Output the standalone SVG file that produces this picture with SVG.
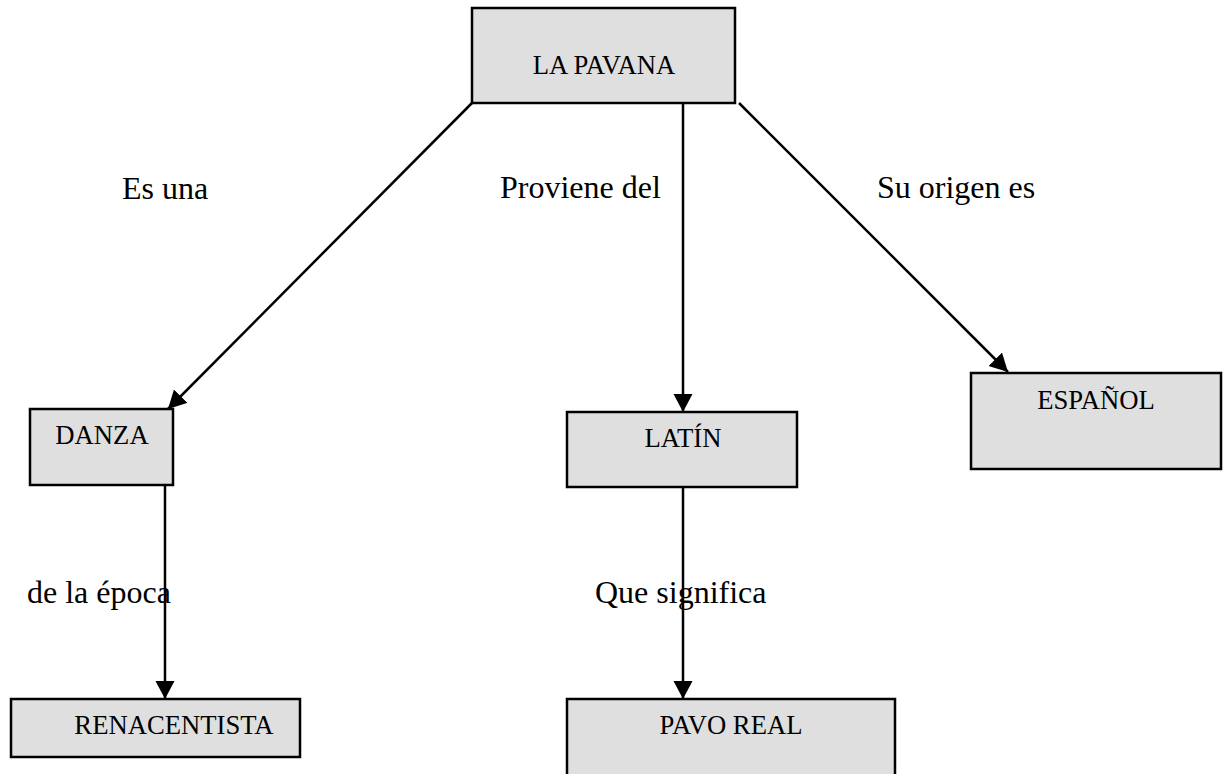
<svg xmlns="http://www.w3.org/2000/svg" width="1224" height="774" viewBox="0 0 1224 774">
<style>
.box{fill:#dfdfdf;stroke:#000;stroke-width:2.5}
.bt{font-family:"Liberation Serif","Times New Roman",serif;font-size:26.67px;fill:#000;text-anchor:middle}
.lb{font-family:"Liberation Serif","Times New Roman",serif;font-size:32px;fill:#000}
.cn{stroke:#000;stroke-width:2.5;fill:none}
</style>
<defs>
<marker id="ah" markerUnits="userSpaceOnUse" markerWidth="20" markerHeight="20" refX="18" refY="9.5" orient="auto">
<path d="M0,0 L18,9.5 L0,19 z" fill="#000"/>
</marker>
</defs>
<rect width="1224" height="774" fill="#fff"/>
<g id="connectors">
<line class="cn" x1="472" y1="103" x2="168" y2="409" marker-end="url(#ah)"/>
<line class="cn" x1="683" y1="103" x2="683" y2="412" marker-end="url(#ah)"/>
<line class="cn" x1="739" y1="103" x2="1008" y2="372" marker-end="url(#ah)"/>
<line class="cn" x1="165" y1="485" x2="165" y2="699" marker-end="url(#ah)"/>
<line class="cn" x1="683" y1="487" x2="683" y2="699" marker-end="url(#ah)"/>
</g>
<g id="labels">
<text class="lb" x="122" y="199">Es una</text>
<text class="lb" x="500" y="198">Proviene del</text>
<text class="lb" x="877" y="198">Su origen es</text>
<text class="lb" x="27" y="603">de la época</text>
<text class="lb" x="595" y="603">Que significa</text>
</g>
<g id="n-pavana"><rect class="box" x="472" y="8" width="263" height="95"/><text class="bt" x="604" y="74">LA PAVANA</text></g>
<g id="n-danza"><rect class="box" x="30" y="409" width="143" height="76"/><text class="bt" x="102" y="444">DANZA</text></g>
<g id="n-latin"><rect class="box" x="567" y="412" width="230" height="75"/><text class="bt" x="683" y="447">LATÍN</text></g>
<g id="n-espanol"><rect class="box" x="971" y="373" width="250" height="96"/><text class="bt" x="1096" y="409">ESPAÑOL</text></g>
<g id="n-renacentista"><rect class="box" x="11" y="699" width="289" height="58"/><text class="bt" x="174" y="734">RENACENTISTA</text></g>
<g id="n-pavoreal"><rect class="box" x="567" y="699" width="328" height="85"/><text class="bt" x="731" y="734">PAVO REAL</text></g>
</svg>
